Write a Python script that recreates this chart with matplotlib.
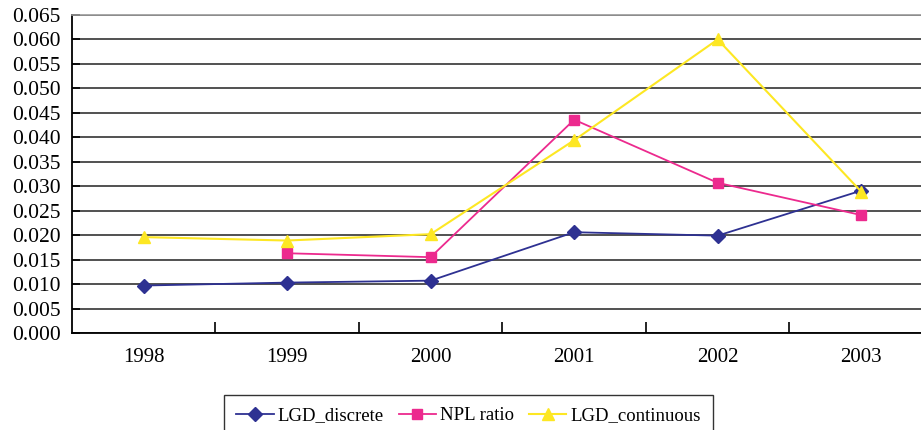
import numpy as np
import matplotlib.pyplot as plt
from matplotlib.ticker import FixedLocator

years = ["1998", "1999", "2000", "2001", "2002", "2003"]
lgd_discrete = [0.0097, 0.0103, 0.0107, 0.0206, 0.0199, 0.0291]
npl_ratio = [np.nan, 0.0163, 0.0155, 0.0436, 0.0307, 0.0241]
lgd_continuous = [0.0196, 0.0189, 0.0202, 0.0394, 0.0600, 0.0289]
y_ticks = np.arange(0, 0.0651, 0.005)

plt.rcParams["font.family"] = ["Liberation Serif", "DejaVu Serif"]

fig = plt.figure(figsize=(9.21, 4.30), dpi=100)
ax = fig.add_axes([0.078, 0.2256, 0.935, 0.7395])

x = np.arange(len(years))
ax.plot(x, lgd_discrete, color="#2e3192", marker="D", markersize=7, lw=1.3,
        label="LGD_discrete")
ax.plot(x, npl_ratio, color="#ec2a8e", marker="s", markersize=7, lw=1.3,
        label="NPL ratio")
ax.plot(x, lgd_continuous, color="#fde723", marker="^", markersize=9, lw=1.5,
        label="LGD_continuous")

ax.set_xlim(-0.5, len(years) - 0.5)
ax.set_ylim(0, 0.065)
ax.set_yticks(y_ticks)
ax.set_yticklabels([f"{v:.3f}" for v in y_ticks], fontsize=15.5)
ax.set_xticks(x)
ax.set_xticklabels(years, fontsize=15)
ax.tick_params(axis="x", which="major", length=0, pad=11)
ax.xaxis.set_minor_locator(FixedLocator(np.arange(0.5, len(years) - 0.5, 1)))
ax.tick_params(axis="x", which="minor", direction="in", length=8, width=1.2,
               color="black")
ax.tick_params(axis="y", direction="in", length=6, width=1.2, pad=8)

ax.yaxis.grid(True, color="#222222", lw=1.1)
ax.set_axisbelow(True)
for s in ["left", "bottom"]:
    ax.spines[s].set_color("black")
    ax.spines[s].set_linewidth(1.3)
ax.spines["right"].set_visible(False)
ax.spines["top"].set_color("#999999")
ax.spines["top"].set_linewidth(1.2)

leg = fig.legend(loc="lower left", bbox_to_anchor=(0.233, -0.037), ncol=3,
                 fontsize=13.5, frameon=True, fancybox=False,
                 handlelength=2.0, handletextpad=0.2, columnspacing=0.8,
                 borderpad=0.65)
leg.get_frame().set_edgecolor("black")
leg.get_frame().set_linewidth(1.0)

fig.savefig("out.png", dpi=100)
